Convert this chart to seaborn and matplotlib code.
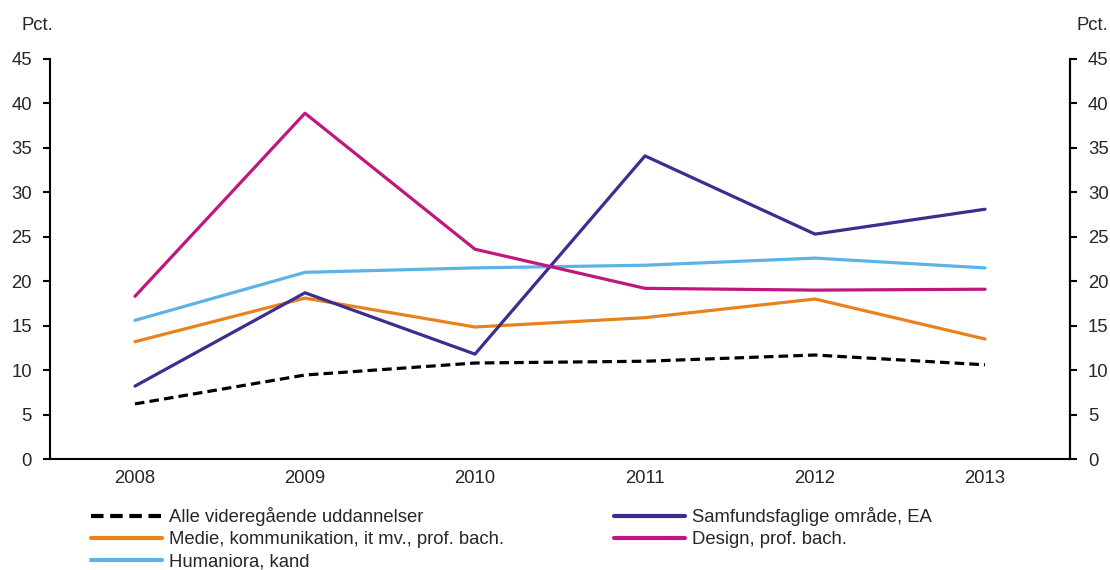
import matplotlib
matplotlib.use("Agg")
import matplotlib.pyplot as plt
import seaborn as sns
import pandas as pd
import numpy as np

years = ["2008", "2009", "2010", "2011", "2012", "2013"]
alle = [6.2, 9.45, 10.8, 11.0, 11.7, 10.6]
samfund = [8.2, 18.7, 11.8, 34.1, 25.3, 28.1]
medie = [13.2, 18.1, 14.85, 15.9, 18.0, 13.5]
design = [18.3, 38.9, 23.6, 19.2, 19.0, 19.1]
humaniora = [15.6, 21.0, 21.5, 21.8, 22.6, 21.5]

names = ["Alle videregående uddannelser",
         "Medie, kommunikation, it mv., prof. bach.",
         "Humaniora, kand",
         "Samfundsfaglige område, EA",
         "Design, prof. bach."]
series = [alle, medie, humaniora, samfund, design]
colors = ["#000000", "#E8821E", "#5AB4E5", "#3C2D8F", "#C0177F"]

FS = 13.3

sns.set_style("white")
plt.rcParams['font.family'] = ['Liberation Sans', 'DejaVu Sans']
plt.rcParams['font.size'] = FS

rows = []
for n, s in zip(names, series):
    for i, v in enumerate(s):
        rows.append({"x": i, "value": v, "serie": n})
df = pd.DataFrame(rows)

fig = plt.figure(figsize=(11.1, 5.7), dpi=100)
ax = fig.add_axes([0.045, 0.1947, 0.919, 0.7018])

sns.lineplot(data=df, x="x", y="value", hue="serie", style="serie",
             hue_order=names, style_order=names,
             palette=dict(zip(names, colors)),
             dashes={names[0]: (3.0, 1.6), names[1]: "", names[2]: "",
                     names[3]: "", names[4]: ""},
             linewidth=2.3, ax=ax, legend=True)

for ln in ax.lines:
    ln.set_dash_capstyle("butt")

ax.set_xlim(-0.5, 5.5)
ax.set_ylim(0, 45)
ax.set_yticks(np.arange(0, 46, 5))
ax.set_xticks(np.arange(-0.5, 5.6, 1))
ax.set_xticklabels([])
ax.set_xticks(range(6), minor=True)
ax.set_xticklabels(years, minor=True)
ax.tick_params(axis="x", which="minor", length=0, pad=8, labelsize=FS)
ax.tick_params(axis="x", which="major", direction="out", length=5, width=1.5, color="black")
ax.tick_params(axis="y", direction="out", length=5, width=1.5, color="black", labelsize=FS, pad=8)
ax.set_xlabel("")
ax.set_ylabel("")
for sp in ["left", "bottom", "right"]:
    ax.spines[sp].set_visible(True)
    ax.spines[sp].set_color("black")
    ax.spines[sp].set_linewidth(1.5)
ax.spines["top"].set_visible(False)

ax2 = ax.twinx()
ax2.set_ylim(0, 45)
ax2.set_yticks(np.arange(0, 46, 5))
ax2.tick_params(axis="y", direction="out", length=5, width=1.5, color="black", labelsize=FS, pad=8)
for sp in ["left", "bottom", "top"]:
    ax2.spines[sp].set_visible(False)
ax2.spines["right"].set_linewidth(1.5)
ax2.spines["right"].set_color("black")

fig.text(0.019, 0.955, "Pct.", fontsize=FS, ha="left", va="center")
fig.text(0.998, 0.955, "Pct.", fontsize=FS, ha="right", va="center")

handles, labels = ax.get_legend_handles_labels()
ax.get_legend().remove()
leg = fig.legend(handles, labels, ncol=2, loc="upper left",
                 bbox_to_anchor=(0.0757, 0.123), frameon=False,
                 handlelength=3.8, handletextpad=0.38, labelspacing=0.28,
                 columnspacing=6.0, borderaxespad=0, fontsize=FS)
for l in leg.get_lines():
    l.set_linewidth(3)

fig.savefig("out.png", dpi=100)
